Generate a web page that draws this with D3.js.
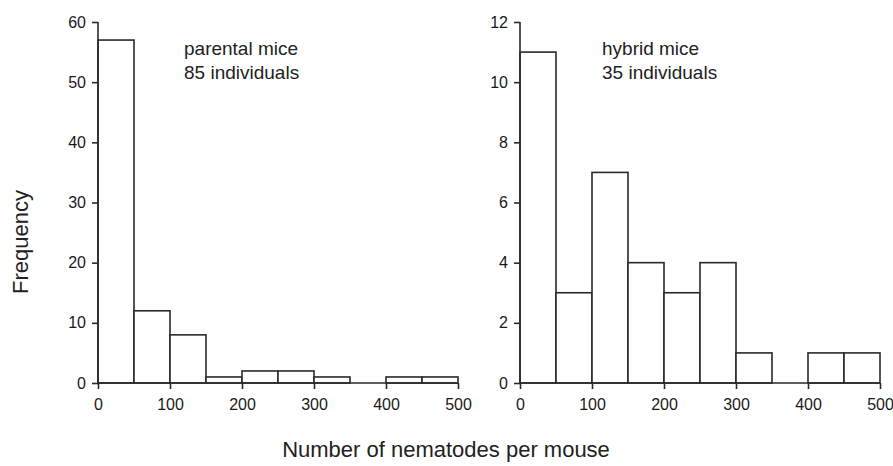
<!DOCTYPE html>
<meta charset='utf-8'>
<html>
<head>
    <script src="https://cdn.jsdelivr.net/npm/d3@7"></script>
    <style>
        body { margin: 0; padding: 0; background: #fff; }
        svg { display: block; font-family: "Liberation Sans", Arial, sans-serif; }
        .label { font-size: 19px; fill: #222; }
    </style>
</head>
<body>
    <svg id="chart" width="893" height="466"></svg>
    <script>
        // bin edges (nematodes per mouse), 50 wide
        var binStarts = [0, 50, 100, 150, 200, 250, 300, 350, 400, 450];
        var parentalCounts = [57, 12, 8, 1, 2, 2, 1, 0, 1, 1];
        var hybridCounts = [11, 3, 7, 4, 3, 4, 1, 0, 1, 1];
        var xTicks = [0, 100, 200, 300, 400, 500];
        var parentalYTicks = [0, 10, 20, 30, 40, 50, 60];
        var hybridYTicks = [0, 2, 4, 6, 8, 10, 12];

        var svg = d3.select('#chart');
        var ink = '#2a2a2a';

        var panels = [
            { counts: parentalCounts, yMax: 60, yTicks: parentalYTicks, x0: 98, x1: 458,
              text: ['parental mice', '85 individuals'], tx: 184 },
            { counts: hybridCounts, yMax: 12, yTicks: hybridYTicks, x0: 520, x1: 880,
              text: ['hybrid mice', '35 individuals'], tx: 602 }
        ];

        var yTop = 22, yBottom = 383;

        panels.forEach(function (p) {
            var x = d3.scaleLinear().domain([0, 500]).range([p.x0, p.x1]);
            var y = d3.scaleLinear().domain([0, p.yMax]).range([yBottom, yTop]);
            var g = svg.append('g');

            g.selectAll('rect.bar')
                .data(binStarts.map(function (b, i) { return { start: b, n: p.counts[i] }; })
                    .filter(function (d) { return d.n > 0; }))
                .enter()
                .append('rect')
                .attr('class', 'bar')
                .attr('x', function (d) { return x(d.start); })
                .attr('width', function (d) { return x(d.start + 50) - x(d.start); })
                .attr('y', function (d) { return y(d.n); })
                .attr('height', function (d) { return y(0) - y(d.n); })
                .attr('fill', 'white')
                .attr('stroke', ink)
                .attr('stroke-width', 1.6);

            var xAxis = g.append('g')
                .attr('transform', 'translate(0,' + yBottom + ')')
                .call(d3.axisBottom(x).tickValues(xTicks).tickSize(6).tickPadding(10));
            var yAxis = g.append('g')
                .attr('transform', 'translate(' + p.x0 + ',0)')
                .call(d3.axisLeft(y).tickValues(p.yTicks).tickSize(6).tickPadding(6));

            [xAxis, yAxis].forEach(function (a) {
                a.attr('font-size', 16);
                a.select('.domain').attr('stroke', ink).attr('stroke-width', 1.6)
                    .attr('d', a === xAxis ? 'M' + p.x0 + ',0H' + p.x1 : 'M0,' + yBottom + 'V' + yTop);
                a.selectAll('.tick line').attr('stroke', ink).attr('stroke-width', 1.6);
                a.selectAll('.tick text').attr('fill', '#1a1a1a');
            });

            g.selectAll('text.note')
                .data(p.text)
                .enter()
                .append('text')
                .attr('class', 'label note')
                .attr('x', p.tx)
                .attr('y', function (d, i) { return 55 + i * 24; })
                .text(function (d) { return d; });
        });

        svg.append('text')
            .attr('class', 'label')
            .attr('transform', 'translate(28,242) rotate(-90)')
            .attr('text-anchor', 'middle')
            .style('font-size', '22px')
            .text('Frequency');

        svg.append('text')
            .attr('class', 'label')
            .attr('x', 446)
            .attr('y', 457)
            .attr('text-anchor', 'middle')
            .style('font-size', '22px')
            .text('Number of nematodes per mouse');
    </script>
</body>
</html>
